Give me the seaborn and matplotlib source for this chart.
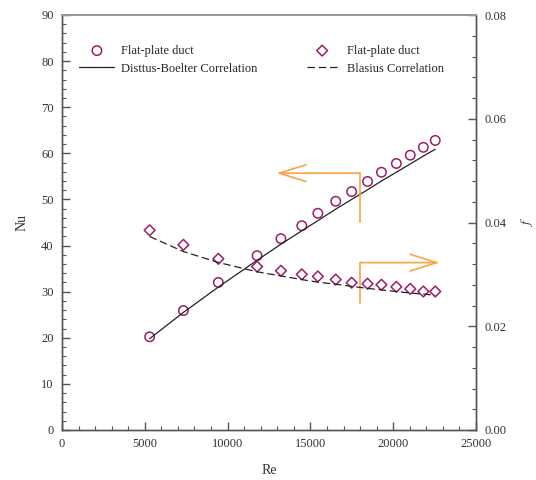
import matplotlib
matplotlib.use("Agg")
import matplotlib.pyplot as plt
import seaborn as sns
import pandas as pd
from matplotlib.ticker import MultipleLocator

sns.set_theme(style="white")
plt.rcParams["font.family"] = ["Liberation Serif", "DejaVu Serif"]
plt.rcParams["mathtext.fontset"] = "stix"

# Reynolds numbers of the measured points
re_vals = [5290, 7330, 9440, 11780, 13220, 14480, 15450, 16530,
           17490, 18450, 19290, 20190, 21030, 21820, 22540]
# Measured Nusselt numbers (flat-plate duct)
nu_meas = [20.2, 25.9, 32.0, 37.8, 41.5, 44.3, 47.0, 49.6,
           51.7, 53.9, 55.9, 57.8, 59.6, 61.3, 62.8]
# Measured friction factors (flat-plate duct)
f_meas = [0.0385, 0.0357, 0.0330, 0.0315, 0.0307, 0.0300, 0.0296, 0.0290,
          0.0284, 0.0282, 0.0280, 0.0276, 0.0272, 0.0267, 0.0267]
# Dittus-Boelter correlation values
nu_corr = [19.8, 25.5, 31.0, 36.8, 40.3, 43.2, 45.4, 47.9,
           50.0, 52.1, 54.0, 55.9, 57.7, 59.4, 60.9]
# Blasius correlation values
f_corr = [0.0373, 0.0344, 0.0323, 0.0305, 0.0297, 0.0290, 0.0285, 0.0281,
          0.0277, 0.0273, 0.0270, 0.0267, 0.0264, 0.0262, 0.0260]

df = pd.DataFrame({"Re": re_vals, "Nu": nu_meas, "f": f_meas,
                   "Nu_DB": nu_corr, "f_B": f_corr})

purple = "#9b1d6b"
orange = "#f7a544"
spine_c = "#555555"

fig = plt.figure(figsize=(5.36, 4.80), dpi=100)
ax = fig.add_axes([62 / 536, 1 - 430 / 480, (476 - 62) / 536, (430 - 15) / 480])
ax2 = ax.twinx()

sns.lineplot(data=df, x="Re", y="Nu_DB", ax=ax, color="#222222", lw=0.9,
             label="Disttus-Boelter Correlation", legend=False)
sns.scatterplot(data=df, x="Re", y="Nu", ax=ax, marker="o", s=46,
                facecolor="none", edgecolor=purple, linewidth=1.1,
                label="Flat-plate duct", legend=False)
sns.lineplot(data=df, x="Re", y="f_B", ax=ax2, color="#222222", lw=0.9,
             label="Blasius Correlation", legend=False)
sns.scatterplot(data=df, x="Re", y="f", ax=ax2, marker="D", s=30,
                facecolor="none", edgecolor=purple, linewidth=1.1,
                label="Flat-plate duct", legend=False)
ax2.lines[0].set_dashes((6, 3))

ax.set_xlim(0, 25000)
ax.set_ylim(0, 90)
ax2.set_ylim(0, 0.08)

ax.xaxis.set_major_locator(MultipleLocator(5000))
ax.xaxis.set_minor_locator(MultipleLocator(1000))
ax.yaxis.set_major_locator(MultipleLocator(10))
ax.yaxis.set_minor_locator(MultipleLocator(2))
ax2.yaxis.set_major_locator(MultipleLocator(0.02))
ax2.yaxis.set_minor_locator(MultipleLocator(0.004))
ax2.yaxis.set_major_formatter(matplotlib.ticker.FormatStrFormatter("%.2f"))

for a in (ax, ax2):
    a.tick_params(which="major", direction="in", length=6, width=1.0,
                  color=spine_c, labelsize=9, labelcolor="#333333", pad=6)
    a.tick_params(which="minor", direction="in", length=3, width=0.8,
                  color=spine_c)
    for s in a.spines.values():
        s.set_color(spine_c)
        s.set_linewidth(1.0)
    a.spines["top"].set_color("#999999")
    a.spines["top"].set_linewidth(1.4)
ax.tick_params(axis="x", which="both", bottom=True, top=False)
ax.tick_params(axis="y", which="both", left=True, right=False)
ax2.tick_params(axis="y", which="both", right=True, left=False)

ax.set_xlabel("Re", fontsize=10, color="#333333", labelpad=10)
ax.set_ylabel("Nu", fontsize=10, color="#333333", labelpad=9)
ax2.set_ylabel("$f$", fontsize=10, color="#333333", labelpad=9, rotation=90)

# direction arrows: upper one points to the Nu axis, lower one to the f axis
ax.plot([18000, 18000], [45.2, 55.7], color=orange, lw=1.2)
ax.annotate("", xy=(12950, 55.7), xytext=(18000, 55.7),
            arrowprops=dict(arrowstyle="->,head_length=1.6,head_width=0.5",
                            color=orange, lw=1.2, shrinkA=0, shrinkB=0))
ax.plot([18000, 18000], [27.6, 36.3], color=orange, lw=1.2)
ax.annotate("", xy=(22800, 36.3), xytext=(18000, 36.3),
            arrowprops=dict(arrowstyle="->,head_length=1.6,head_width=0.5",
                            color=orange, lw=1.2, shrinkA=0, shrinkB=0))

h1, l1 = ax.get_legend_handles_labels()
h2, l2 = ax2.get_legend_handles_labels()
order1 = [l1.index("Flat-plate duct"), l1.index("Disttus-Boelter Correlation")]
order2 = [l2.index("Flat-plate duct"), l2.index("Blasius Correlation")]
leg1 = ax.legend([h1[i] for i in order1], [l1[i] for i in order1],
                 loc="upper left", bbox_to_anchor=(0.03, 0.94), frameon=False,
                 fontsize=9, handlelength=2.8, labelspacing=0.45,
                 handletextpad=0.5, borderaxespad=0)
leg2 = ax2.legend([h2[i] for i in order2], [l2[i] for i in order2],
                  loc="upper left", bbox_to_anchor=(0.58, 0.94), frameon=False,
                  fontsize=9, handlelength=2.4, labelspacing=0.45,
                  handletextpad=0.8, borderaxespad=0)

fig.savefig("out.png", dpi=100)
